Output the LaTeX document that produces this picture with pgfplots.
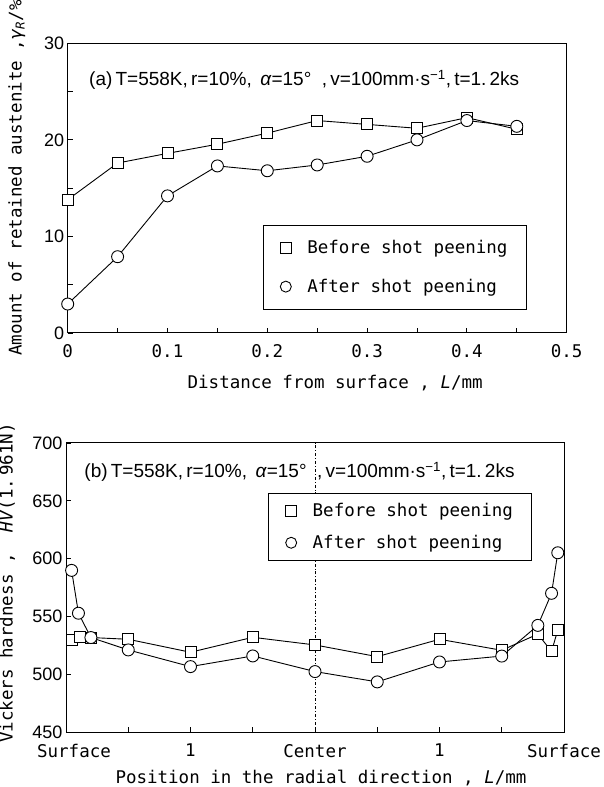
\documentclass[border=0pt]{standalone}
\usepackage{pgfplots}
\pgfplotsset{compat=1.18}
\usepackage{fontspec}
\setmainfont{Liberation Sans}
\setmonofont{DejaVu Sans Mono}
\newcommand{\lab}{\fontsize{17.5}{20}\selectfont\ttfamily}
\newcommand{\num}{\fontsize{18}{21}\selectfont\rmfamily}
\newcommand{\ann}{\fontsize{19}{22}\selectfont\rmfamily}
\begin{document}
\begin{tikzpicture}
\useasboundingbox (0pt,0pt) rectangle (603pt,787pt);
\pgfplotsset{
  every axis/.append style={
    scale only axis,
    axis line style={line width=1pt},
    tick style={line width=0.8pt, black},
    major tick length=5pt, minor tick length=5pt,
    tick pos=left, tick align=inside,
    /pgf/number format/assume math mode=true,
    yticklabel style={font=\num},
    legend cell align=left,
    every axis plot/.append style={line width=0.9pt, black},
  },
}
% ---------------- top panel ----------------
\begin{axis}[
  at={(67.7pt,454pt)}, anchor=south west,
  width=499pt, height=289.7pt,
  xmin=0, xmax=0.5, ymin=0, ymax=30,
  xtick={0,0.1,0.2,0.3,0.4,0.5},
  xticklabels={0,0.1,0.2,0.3,0.4,0.5},
  minor xtick={0.05,0.15,0.25,0.35,0.45},
  ytick={0,10,20,30}, minor ytick={5,15,25},
  xticklabel style={font=\lab, yshift=-8pt},
  xlabel={Distance from surface , \textit{L}/mm},
  xlabel style={font=\lab, at={(axis description cs:0.536,-0.173)}, anchor=center},
  ylabel={Amount of retained austenite ,\textit{γ}\textsubscript{\textit{R}}/\%},
  ylabel style={font=\lab, at={(axis description cs:-0.102,0.535)}, anchor=center},
  legend style={at={(axis description cs:0.391,0.373)}, anchor=north west,
    draw=black, line width=1pt, font=\lab, inner xsep=17pt, inner ysep=13pt,
    row sep=20pt},
]
\addplot[mark=square*, mark size=5.5pt, mark options={fill=white, line width=0.9pt}, forget plot]
  coordinates {(0,13.8)(0.05,17.6)(0.1,18.6)(0.15,19.55)(0.2,20.7)(0.25,22.0)(0.3,21.6)(0.35,21.2)(0.4,22.3)(0.45,21.1)};
\addplot[mark=*, mark size=6pt, mark options={fill=white, line width=0.9pt}, forget plot]
  coordinates {(0,3.0)(0.05,7.9)(0.1,14.2)(0.15,17.3)(0.2,16.8)(0.25,17.4)(0.3,18.3)(0.35,20.0)(0.4,22.0)(0.45,21.4)};
\addlegendimage{only marks, mark=square*, mark size=5.5pt, mark options={fill=white, line width=0.9pt}}
\addlegendentry{\hspace*{14pt}Before shot peening}
\addlegendimage{only marks, mark=*, mark size=5.5pt, mark options={fill=white, line width=0.9pt}}
\addlegendentry{\hspace*{14pt}After shot peening}
\node[anchor=west, font=\ann] at (axis description cs:0.036,0.873)
  {(a)\,T=558K,\,r=10\%,\, \textit{α}=15°\ \ ,\,v=100mm·s\textsuperscript{−1},\,t=1.\,2ks};
\end{axis}
% ---------------- bottom panel ----------------
\begin{axis}[
  at={(66pt,54.5pt)}, anchor=south west,
  width=498pt, height=289.5pt,
  xmin=0, xmax=4, ymin=450, ymax=700,
  xtick={0,1,2,3,4},
  xticklabels={\hspace*{16pt}Surface,1,Center,1,Surface},
  minor xtick={0.5,1.5,2.5,3.5},
  ytick={450,500,550,600,650,700},
  xticklabel style={font=\lab, yshift=-8pt},
  xlabel={Position in the radial direction , \textit{L}/mm},
  xlabel style={font=\lab, at={(axis description cs:0.512,-0.157)}, anchor=center},
  ylabel={Vickers hardness ,\ \ \textit{HV}(1.\,961N)},
  ylabel style={font=\lab, at={(axis description cs:-0.118,0.516)}, anchor=center},
  legend style={at={(axis description cs:0.406,0.827)}, anchor=north west,
    draw=black, line width=1pt, font=\lab, inner xsep=17pt, inner ysep=8pt,
    row sep=13pt},
]
\addplot[dash dot, line width=0.8pt, forget plot] coordinates {(2,450)(2,700)};
\addplot[mark=square*, mark size=5.5pt, mark options={fill=white, line width=0.9pt}, forget plot]
  coordinates {(0.045,530)(0.11,532.5)(0.2,532)(0.5,530.5)(1.0,519.3)(1.5,532.2)(2.0,525.6)(2.5,515.5)(3.0,530.5)(3.5,521)(3.79,535)(3.90,520)(3.95,538.5)};
\addplot[mark=*, mark size=6pt, mark options={fill=white, line width=0.9pt}, forget plot]
  coordinates {(0.045,590)(0.1,553)(0.2,532)(0.5,521.3)(1.0,506.9)(1.5,516.1)(2.0,502.6)(2.5,493.7)(3.0,510.9)(3.5,516)(3.79,542.5)(3.90,570.2)(3.95,605.2)};
\addlegendimage{only marks, mark=square*, mark size=5.5pt, mark options={fill=white, line width=0.9pt}}
\addlegendentry{\hspace*{14pt}Before shot peening}
\addlegendimage{only marks, mark=*, mark size=5.5pt, mark options={fill=white, line width=0.9pt}}
\addlegendentry{\hspace*{14pt}After shot peening}
\node[anchor=west, font=\ann] at (axis description cs:0.03,0.901)
  {(b)\,T=558K,\,r=10\%,\, \textit{α}=15°\ \ ,\,v=100mm·s\textsuperscript{−1},\,t=1.\,2ks};
\end{axis}
\end{tikzpicture}
\end{document}
